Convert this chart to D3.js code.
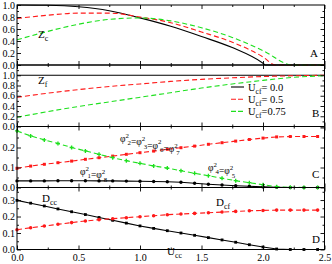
<!DOCTYPE html>
<html>
<head>
<meta charset="utf-8">
<script src="https://cdn.jsdelivr.net/npm/d3@7"></script>
<style>
  body { margin: 0; background: #fff; }
  svg text { font-family: "Liberation Serif", "Times New Roman", serif; fill: #000; }
</style>
</head>
<body>
<svg id="chart"></svg>
<script>
// ---- data ----

// panel A: Z_c, smooth curves (x values per series, they stop at the zero crossing)
const zcU00  = [0, 0.25, 0.5, 0.75, 1.0, 1.25, 1.5, 1.75, 2.0, 2.02, 2.5];
const zc00   = [1.0, 0.995, 0.97, 0.905, 0.785, 0.645, 0.475, 0.29, 0.03, 0, 0];
const zcU05  = [0, 0.25, 0.5, 0.75, 1.0, 1.25, 1.5, 1.75, 2.0, 2.1, 2.5];
const zc05   = [0.775, 0.83, 0.865, 0.865, 0.80, 0.705, 0.55, 0.38, 0.135, 0, 0];
const zcU075 = [0, 0.25, 0.5, 0.75, 1.0, 1.25, 1.5, 1.75, 2.0, 2.24, 2.5];
const zc075  = [0.42, 0.56, 0.68, 0.76, 0.785, 0.735, 0.62, 0.46, 0.24, 0, 0];

// panel B: Z_f
const zfU   = [0, 0.25, 0.5, 0.75, 1.0, 1.25, 1.5, 1.75, 2.0, 2.25, 2.5];
const zf00  = [1, 1, 1, 1, 1, 1, 1, 1, 1, 1, 1];
const zf05  = [0.57, 0.65, 0.72, 0.78, 0.83, 0.88, 0.92, 0.95, 0.975, 0.99, 1.0];
const zf075 = [0.18, 0.29, 0.39, 0.48, 0.57, 0.66, 0.75, 0.83, 0.90, 0.96, 0.99];

// panels C and D: marker positions along U_cc
const uMark = [0, 0.111, 0.222, 0.333, 0.444, 0.556, 0.667, 0.778, 0.889, 1.0, 1.111, 1.222,
               1.333, 1.444, 1.556, 1.667, 1.778, 1.889, 2.0, 2.111, 2.222, 2.333, 2.444];

// panel C: phi^2 values
const phi18   = [0.033, 0.033, 0.033, 0.034, 0.034, 0.034, 0.033, 0.033, 0.032, 0.031, 0.030, 0.029,
                 0.026, 0.021, 0.016, 0.0125, 0.009, 0.006, 0.003, 0.001, 0, 0, 0];
const phi2367 = [0.096, 0.107, 0.116, 0.124, 0.132, 0.141, 0.149, 0.157, 0.166, 0.174, 0.182, 0.191,
                 0.199, 0.207, 0.216, 0.224, 0.232, 0.240, 0.247, 0.253, 0.255, 0.255, 0.255];
const phi45   = [0.283, 0.258, 0.238, 0.22, 0.20, 0.183, 0.166, 0.149, 0.134, 0.121, 0.108, 0.097,
                 0.084, 0.071, 0.059, 0.046, 0.034, 0.024, 0.014, 0.004, 0.001, 0, 0];

// panel D: D_cc and D_cf
const dcc = [0.298, 0.281, 0.264, 0.246, 0.229, 0.212, 0.194, 0.177, 0.160, 0.143, 0.128, 0.114,
             0.100, 0.086, 0.072, 0.058, 0.044, 0.029, 0.015, 0.003, 0, 0, 0];
const dcf = [0.12, 0.132, 0.142, 0.153, 0.163, 0.173, 0.181, 0.187, 0.193, 0.199, 0.205, 0.211,
             0.215, 0.219, 0.223, 0.227, 0.231, 0.235, 0.237, 0.239, 0.239, 0.239, 0.239];

// ticks and labels
const xMajor = [0, 0.5, 1.0, 1.5, 2.0, 2.5];
const xMinor = [0.25, 0.75, 1.25, 1.75, 2.25];
const yTicksA = [0, 0.2, 0.4, 0.6, 0.8, 1.0];
const yTicksB = [0, 0.2, 0.4, 0.6, 0.8, 1.0];
const yTicksC = [0, 0.1, 0.2];
const yTicksD = [0, 0.1, 0.2, 0.3];
const legendLabels = ["= 0.0", "= 0.5", "=0.75"];


class StackedPanels {

    margin = { left: 17, right: 7.5 }

    constructor(svg, panels, width = 332, height = 264) {
        this.svg = svg;
        this.panels = panels;
        this.width = width;
        this.height = height;
    }

    // text with sub/superscripts: parts = [[text, shift, dx]], shift in em (+ down)
    label(g, x, y, parts, size) {
        const t = g.append("text").attr("x", x).attr("y", y).attr("font-size", size);
        let cur = 0;
        parts.forEach(([s, shift = 0, dx = 0]) => {
            const fs = shift === 0 ? size : size * 0.72;
            t.append("tspan")
                .attr("dy", (shift - cur) * size)
                .attr("dx", dx * size)
                .attr("font-size", fs)
                .text(s);
            cur = shift;
        });
        return t;
    }

    initialize() {
        this.svg = d3.select(this.svg)
            .attr("width", this.width)
            .attr("height", this.height);

        this.x = d3.scaleLinear()
            .domain([0, 2.5])
            .range([this.margin.left, this.width - this.margin.right]);

        for (const p of this.panels) {
            const y = d3.scaleLinear().domain(p.domain).range([p.bottom, p.top]);
            const g = this.svg.append("g");

            // Add the lines
            for (const s of p.series) {
                const pts = s.u.map((u, i) => [u, s.v[i]]);
                const line = d3.line()
                    .x(d => this.x(d[0]))
                    .y(d => y(d[1]))
                    .curve(s.smooth ? d3.curveMonotoneX : d3.curveLinear);
                g.append("path")
                    .attr("d", line(pts))
                    .attr("fill", "none")
                    .attr("stroke", s.color)
                    .attr("stroke-width", 1.1)
                    .attr("stroke-dasharray", s.dash ? "5,3" : null);

                // Add markers
                if (s.symbol) {
                    g.selectAll(null)
                        .data(pts)
                        .join("path")
                        .attr("transform", d => `translate(${this.x(d[0])},${y(d[1])})`)
                        .attr("d", d3.symbol().type(s.symbol).size(s.size))
                        .attr("fill", s.color);
                }
            }

            // Add frame
            g.append("rect")
                .attr("x", this.x(0)).attr("y", p.top)
                .attr("width", this.x(2.5) - this.x(0))
                .attr("height", p.bottom - p.top)
                .attr("fill", "none")
                .attr("stroke", "#000")
                .attr("stroke-width", 1);

            // Add inward x ticks, top and bottom
            const bottom = g.append("g")
                .attr("transform", `translate(0,${p.bottom})`)
                .call(d3.axisBottom(this.x).tickValues(xMajor).tickSizeInner(-4).tickSizeOuter(0)
                    .tickPadding(4).tickFormat(p.xLabels ? d3.format(".1f") : ""));
            bottom.append("g")
                .call(d3.axisBottom(this.x).tickValues(xMinor).tickSizeInner(-2).tickSizeOuter(0).tickFormat(""));
            g.append("g")
                .attr("transform", `translate(0,${p.top})`)
                .call(d3.axisTop(this.x).tickValues(xMajor).tickSizeInner(-4).tickSizeOuter(0).tickFormat(""))
                .append("g")
                .call(d3.axisTop(this.x).tickValues(xMinor).tickSizeInner(-2).tickSizeOuter(0).tickFormat(""));

            // Add inward y ticks, left and right
            const minor = d3.range(p.step / 2, p.domain[1], p.step);
            g.append("g")
                .attr("transform", `translate(${this.x(0)},0)`)
                .call(d3.axisLeft(y).tickValues(p.ticks).tickSizeInner(-4).tickSizeOuter(0)
                    .tickPadding(2).tickFormat(d3.format(".1f")))
                .append("g")
                .call(d3.axisLeft(y).tickValues(minor).tickSizeInner(-2).tickSizeOuter(0).tickFormat(""));
            g.append("g")
                .attr("transform", `translate(${this.x(2.5)},0)`)
                .call(d3.axisRight(y).tickValues(d3.range(0, p.domain[1], p.step)).tickSizeInner(-4).tickSizeOuter(0).tickFormat(""))
                .append("g")
                .call(d3.axisRight(y).tickValues(minor).tickSizeInner(-2).tickSizeOuter(0).tickFormat(""));

            // Add panel texts
            for (const t of p.texts) this.label(g, t.x, t.y, t.parts, t.size);

            p.extra && p.extra(g, y);
        }

        this.svg.selectAll(".domain").remove();
        this.svg.selectAll(".tick text")
            .attr("font-family", '"Liberation Serif", "Times New Roman", serif')
            .attr("font-size", 10)
            .attr("fill", "#000");
        this.svg.selectAll(".tick line").attr("stroke-width", 0.9);
    }
}

const RED = "#ff1a1a", GREEN = "#1ee01e", BLACK = "#000";
// phi with superscript 2 and a subscript tucked under it
const phiParts = (a) => [["\u03c6"], ["2", -0.45], [a, 0.35, -0.15], ["", 0, 0.05]];

const panels = [
    {
        top: 5, bottom: 65, domain: [0, 1], ticks: yTicksA, step: 0.2,
        series: [
            { u: zcU00, v: zc00, color: BLACK, smooth: true },
            { u: zcU05, v: zc05, color: RED, dash: true, smooth: true },
            { u: zcU075, v: zc075, color: GREEN, dash: true, smooth: true }
        ],
        texts: [
            { x: 38, y: 38, size: 11, parts: [["Z"], ["c", 0.3]] },
            { x: 310, y: 57, size: 11, parts: [["A"]] }
        ]
    },
    {
        top: 65, bottom: 126.5, domain: [0, 1.2], ticks: yTicksB, step: 0.2,
        series: [
            { u: zfU, v: zf00, color: BLACK, smooth: true },
            { u: zfU, v: zf05, color: RED, dash: true, smooth: true },
            { u: zfU, v: zf075, color: GREEN, dash: true, smooth: true }
        ],
        texts: [
            { x: 38, y: 84, size: 11, parts: [["Z"], ["f", 0.3]] },
            { x: 312, y: 117, size: 11, parts: [["B"]] }
        ],
        extra: (g) => {
            // legend
            const colors = [BLACK, RED, GREEN];
            legendLabels.forEach((lab, i) => {
                const ly = 87 + i * 12.2;
                g.append("line")
                    .attr("x1", 231).attr("x2", 244).attr("y1", ly).attr("y2", ly)
                    .attr("stroke", colors[i]).attr("stroke-width", 1.1)
                    .attr("stroke-dasharray", i ? "5,2" : null);
                chart.label(g, 248, ly + 3.5, [["U"], ["cf", 0.3], [lab]], 10.5);
            });
        }
    },
    {
        top: 126.5, bottom: 187.5, domain: [0, 0.305], ticks: yTicksC, step: 0.1,
        series: [
            { u: uMark, v: phi18, color: BLACK, symbol: d3.symbolCircle, size: 9 },
            { u: uMark, v: phi2367, color: RED, dash: true, symbol: d3.symbolSquare, size: 9 },
            { u: uMark, v: phi45, color: GREEN, dash: true, symbol: d3.symbolCross, size: 9 }
        ],
        texts: [
            { x: 120, y: 142, size: 9.5, parts: [...phiParts("2"), ["="], ...phiParts("3"), ["="], ...phiParts("6"), ["="], ...phiParts("7")] },
            { x: 80, y: 175, size: 9.5, parts: [...phiParts("1"), ["="], ...phiParts("8")] },
            { x: 208, y: 171, size: 9.5, parts: [...phiParts("4"), ["="], ...phiParts("5")] },
            { x: 312, y: 178, size: 11, parts: [["C"]] }
        ]
    },
    {
        top: 187.5, bottom: 249.5, domain: [0, 0.376], ticks: yTicksD, step: 0.1, xLabels: true,
        series: [
            { u: uMark, v: dcc, color: BLACK, symbol: d3.symbolSquare, size: 8 },
            { u: uMark, v: dcf, color: RED, dash: true, symbol: d3.symbolCircle, size: 10 }
        ],
        texts: [
            { x: 42, y: 202, size: 11, parts: [["D"], ["cc", 0.3]] },
            { x: 216, y: 206, size: 11, parts: [["D"], ["cf", 0.3]] },
            { x: 312, y: 243, size: 11, parts: [["D"]] },
            { x: 167, y: 255, size: 11, parts: [["U"], ["cc", 0.3]] }
        ]
    }
];

const chart = new StackedPanels(document.getElementById("chart"), panels);
chart.initialize();
</script>
</body>
</html>
